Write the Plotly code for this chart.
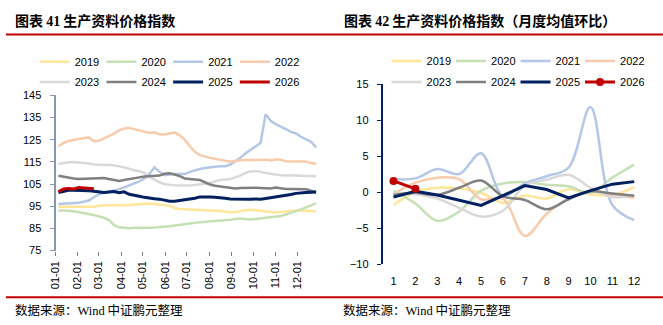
import plotly.graph_objects as go

# ---------------- data: left chart (weekly index) ----------------
weeks = [
    "2000-01-05", "2000-01-12", "2000-01-19", "2000-01-26",
    "2000-02-02", "2000-02-09", "2000-02-16", "2000-02-23",
    "2000-03-01", "2000-03-08", "2000-03-15", "2000-03-22", "2000-03-29",
    "2000-04-05", "2000-04-12", "2000-04-19", "2000-04-26",
    "2000-05-03", "2000-05-10", "2000-05-17", "2000-05-24", "2000-05-31",
    "2000-06-07", "2000-06-14", "2000-06-21", "2000-06-28",
    "2000-07-05", "2000-07-12", "2000-07-19", "2000-07-26",
    "2000-08-02", "2000-08-09", "2000-08-16", "2000-08-23", "2000-08-30",
    "2000-09-06", "2000-09-13", "2000-09-20", "2000-09-27",
    "2000-10-04", "2000-10-11", "2000-10-18", "2000-10-25",
    "2000-11-01", "2000-11-08", "2000-11-15", "2000-11-22", "2000-11-29",
    "2000-12-06", "2000-12-13", "2000-12-20", "2000-12-27",
]

idx_2019 = [94.8, 94.8, 94.7, 94.7, 94.8, 94.7, 94.6, 94.8, 95.2, 95.4, 95.5, 95.4,
            95.4, 95.4, 95.6, 95.8, 96.0, 96.1, 96.2, 96.0, 95.8, 95.5, 95.2, 94.2,
            93.7, 93.6, 93.5, 93.5, 93.4, 93.4, 93.3, 93.2, 92.8, 92.6, 92.3, 92.4,
            92.9, 93.2, 93.4, 93.3, 93.0, 92.6, 92.3, 92.2, 92.4, 92.8, 93.0, 93.0,
            93.1, 93.0, 92.8, 92.6]
idx_2020 = [93.1, 93.2, 93.0, 92.7, 92.4, 92.0, 91.5, 91.0, 90.5, 89.8, 88.8, 86.5,
            85.5, 85.2, 85.1, 85.3, 85.2, 85.2, 85.3, 85.4, 85.5, 85.9, 86.0, 86.3,
            86.5, 86.8, 87.2, 87.5, 87.8, 88.0, 88.2, 88.3, 88.4, 88.6, 88.9, 89.3,
            89.5, 89.3, 89.0, 89.3, 89.6, 89.8, 90.0, 90.3, 90.6, 91.3, 92.2, 92.8,
            93.6, 94.5, 95.4, 96.3]
idx_2021 = [96.0, 96.1, 96.3, 96.4, 96.6, 97.0, 97.6, 99.0, 100.3, 101.0, 101.5, 102.0,
            102.7, 103.5, 104.3, 105.2, 106.2, 107.5, 109.5, 112.5, 110.5, 109.0, 109.3, 109.5,
            109.5, 109.5, 110.5, 111.2, 111.8, 112.2, 112.6, 112.8, 113.0, 113.0, 113.8, 115.3,
            116.8, 118.8, 120.5, 121.8, 123.5, 136.5, 133.5, 132.0, 131.0, 129.8, 128.5, 127.8,
            126.3, 125.2, 124.0, 121.5]
idx_2022 = [122.0, 123.5, 124.4, 125.0, 125.3, 125.6, 126.0, 124.3, 124.5, 125.6, 126.6, 127.7,
            129.2, 130.0, 130.3, 129.8, 129.2, 128.5, 128.0, 128.3, 127.4, 127.3, 127.8, 128.2,
            127.0, 125.0, 122.0, 119.5, 118.0, 117.3, 116.8, 116.4, 116.0, 115.6, 115.1, 115.5,
            115.8, 115.8, 115.8, 115.8, 115.8, 116.0, 115.6, 116.2, 116.0, 115.3, 115.2, 115.3,
            115.2, 115.0, 114.6, 114.0]
idx_2023 = [114.0, 114.5, 114.8, 114.9, 114.8, 114.5, 114.3, 113.8, 113.6, 113.6, 113.7, 113.5,
            113.0, 112.5, 111.8, 111.2, 110.8, 110.0, 108.2, 107.0, 105.8, 105.0, 104.6, 104.4,
            104.3, 104.2, 104.3, 104.6, 104.9, 105.0, 105.5, 106.2, 106.8, 107.0, 107.3, 108.0,
            108.8, 110.0, 110.7, 110.8, 110.6, 110.0, 109.8, 109.3, 109.0, 108.8, 109.0, 108.8,
            108.7, 108.6, 108.6, 108.5]
idx_2024 = [108.7, 108.2, 107.8, 107.5, 107.3, 107.4, 107.3, 107.4, 107.5, 107.7, 107.3, 107.0,
            106.4, 106.8, 107.1, 107.4, 108.0, 108.4, 108.5, 108.6, 108.8, 109.6, 109.9, 109.3,
            108.6, 107.5, 107.2, 107.2, 106.8, 105.8, 104.8, 104.2, 103.9, 103.9, 103.3, 103.0,
            103.2, 103.3, 103.3, 103.3, 103.2, 103.0, 103.0, 103.4, 103.0, 102.8, 102.8, 102.7,
            102.8, 102.6, 102.0, 101.3]
idx_2025 = [101.2, 101.7, 102.2, 102.2, 102.2, 102.1, 102.0, 101.8, 101.4, 101.2, 101.4, 101.6,
            101.1, 101.5, 100.4, 99.8, 99.5, 99.0, 98.6, 98.4, 98.2, 97.6, 97.3, 97.2,
            97.5, 98.1, 98.4, 98.6, 99.2, 99.3, 99.2, 99.0, 98.9, 98.6, 98.3, 98.2,
            98.0, 98.0, 98.1, 98.3, 98.2, 98.5, 98.8, 99.3, 99.6, 99.8, 100.3, 100.8,
            101.1, 101.2, 101.3, 101.4]
idx_2026 = [101.5, 102.8, 103.0, 102.8, 103.4, 103.3, 103.0, 102.9]

# ---------------- data: right chart (monthly m/m %) ----------------
months = [1, 2, 3, 4, 5, 6, 7, 8, 9, 10, 11, 12]
mom_2019 = [-1.8, 0.0, 0.6, 0.5, -0.1, -1.5, -0.5, -0.9, 0.4, -0.3, -0.4, 0.7]
mom_2020 = [0.2, -1.6, -4.0, -2.7, 0.2, 1.2, 1.4, 1.0, 0.8, -0.1, 2.0, 3.8]
mom_2021 = [1.8, 1.9, 3.2, 2.5, 5.4, -0.5, 1.2, 2.2, 3.4, 11.8, -1.8, -3.9]
mom_2022 = [-0.3, 1.3, 2.0, 1.8, -1.0, -0.9, -6.1, -3.0, -0.9, 0.1, -0.4, -0.8]
mom_2023 = [-0.2, -0.3, -0.9, -2.2, -3.4, -2.6, 0.9, 1.7, 2.4, 0.6, -0.7, -0.4]
mom_2024 = [-0.4, -0.1, -0.4, 0.6, 1.6, -0.6, -1.1, -2.4, -1.0, 0.1, -0.2, -0.5]
mom_2025 = [-0.7, 0.1, -0.4, -1.1, -1.85, -0.5, 0.9, 0.35, -0.8, 0.2, 1.1, 1.45]
mom_2026 = [1.55, 0.45]

years = ["2019", "2020", "2021", "2022", "2023", "2024", "2025", "2026"]
colors = ["#FFE699", "#C5E0B4", "#B4C7E7", "#F8CBAD", "#D9D9D9", "#808080", "#002060", "#C00000"]

left_series = [idx_2019, idx_2020, idx_2021, idx_2022, idx_2023, idx_2024, idx_2025, idx_2026]
right_series = [mom_2019, mom_2020, mom_2021, mom_2022, mom_2023, mom_2024, mom_2025, mom_2026]

W, H = 663, 325
TXT = "Liberation Sans, Arial, sans-serif"
CJK = "Noto Sans CJK SC, sans-serif"

fig = go.Figure()

for i, (yr, col, vals) in enumerate(zip(years, colors, left_series)):
    fig.add_trace(go.Scatter(
        x=weeks[:len(vals)], y=vals, name=yr, mode="lines",
        line=dict(color=col, width=3 if yr in ("2025", "2026") else 2.5),
        xaxis="x", yaxis="y",
        legend="legend" if i < 4 else "legend2",
    ))

for i, (yr, col, vals) in enumerate(zip(years, colors, right_series)):
    smooth = yr not in ("2025", "2026")
    fig.add_trace(go.Scatter(
        x=months[:len(vals)], y=vals, name=yr,
        mode="lines+markers" if yr == "2026" else "lines",
        marker=dict(size=8, color=col),
        line=dict(color=col, width=3 if yr in ("2025", "2026") else 2.5,
                  shape="spline" if smooth else "linear"),
        xaxis="x2", yaxis="y2",
        legend="legend3" if i < 4 else "legend4",
    ))

def px_x(p):
    return p / W

def px_y(p):
    return 1 - p / H

left_dom_x = [px_x(50), px_x(313.7)]
left_dom_y = [px_y(254), px_y(92.7)]
right_dom_x = [px_x(380), px_x(645)]
right_dom_y = [px_y(268), px_y(81)]
zero_pos = right_dom_y[0] + (0 - (-10)) / 25 * (right_dom_y[1] - right_dom_y[0])

tickfont = dict(family=TXT, size=11, color="#000000")

legend_common = dict(orientation="h", xanchor="left", yanchor="middle",
                     entrywidthmode="pixels", font=dict(family=TXT, size=11, color="#000000"),
                     bgcolor="rgba(0,0,0,0)", borderwidth=0, traceorder="normal")

fig.update_layout(
    width=W, height=H, autosize=False,
    margin=dict(l=0, r=0, t=0, b=0),
    paper_bgcolor="white", plot_bgcolor="white",
    showlegend=True,
    xaxis=dict(domain=left_dom_x, anchor="y", type="date",
               range=["2000-01-01", "2000-12-28"],
               tick0="2000-01-01", dtick="M1", tickformat="%m-%d", tickangle=-90,
               ticks="outside", ticklen=4, tickcolor="#808080",
               showline=False, showgrid=False, zeroline=False, tickfont=tickfont,
               ticklabelstandoff=1),
    yaxis=dict(domain=left_dom_y, anchor="x", range=[75, 145], dtick=10, tick0=75,
               showline=True, linecolor="#8497B0", linewidth=2,
               ticks="outside", ticklen=4, tickcolor="#8497B0",
               showgrid=False, zeroline=False, tickfont=tickfont, ticklabelstandoff=6),
    xaxis2=dict(domain=right_dom_x, anchor="y2", range=[0.5, 12.5],
                tickmode="array", tickvals=months, ticktext=[str(m) for m in months],
                ticks="", showline=False, showgrid=False, zeroline=False,
                tickfont=tickfont, ticklabelstandoff=9),
    xaxis3=dict(overlaying="x2", anchor="free", position=zero_pos, range=[0.5, 12.5],
                tickmode="array", tickvals=[m + 0.5 for m in [0] + months],
                ticks="outside", ticklen=4, tickcolor="#404040",
                showline=True, linecolor="#404040", linewidth=1,
                showticklabels=False, showgrid=False, zeroline=False, layer="below traces"),
    yaxis2=dict(domain=right_dom_y, anchor="x2", range=[-10, 15], dtick=5, tick0=-10,
                showline=True, linecolor="#002060", linewidth=1.5,
                ticks="outside", ticklen=4, tickcolor="#002060",
                showgrid=False, zeroline=False, tickfont=tickfont, ticklabelstandoff=6),
    legend=dict(legend_common, x=px_x(29), y=px_y(58), entrywidth=21.7),
    legend2=dict(legend_common, x=px_x(29), y=px_y(79), entrywidth=21.7),
    legend3=dict(legend_common, x=px_x(384), y=px_y(57), entrywidth=19.5),
    legend4=dict(legend_common, x=px_x(384), y=px_y(79), entrywidth=19.5),
)

serif = "font-family:'Liberation Serif', 'Times New Roman', serif"
fig.add_annotation(text=f"<b>图表 <span style=\"{serif}\">41</span> 生产资料价格指数</b>",
                   xref="paper", yref="paper", x=px_x(7), y=px_y(15),
                   xanchor="left", yanchor="middle", showarrow=False,
                   font=dict(family=CJK, size=14, color="#000000"))
fig.add_annotation(text=f"<b>图表 <span style=\"{serif}\">42</span> 生产资料价格指数（月度均值环比）</b>",
                   xref="paper", yref="paper", x=px_x(339), y=px_y(15),
                   xanchor="left", yanchor="middle", showarrow=False,
                   font=dict(family=CJK, size=14, color="#000000"))
for xs in (7, 338):
    fig.add_annotation(text=f"数据来源：<span style=\"{serif}\">Wind</span> 中证鹏元整理",
                       xref="paper", yref="paper", x=px_x(xs), y=px_y(315),
                       xanchor="left", yanchor="middle", showarrow=False,
                       font=dict(family=CJK, size=12.5, color="#000000"))

for yy in (29.5, 302.5):
    fig.add_shape(type="line", xref="paper", yref="paper", x0=0, x1=1,
                  y0=px_y(yy), y1=px_y(yy), line=dict(color="#C00000", width=2))

fig.write_html("out.html")
